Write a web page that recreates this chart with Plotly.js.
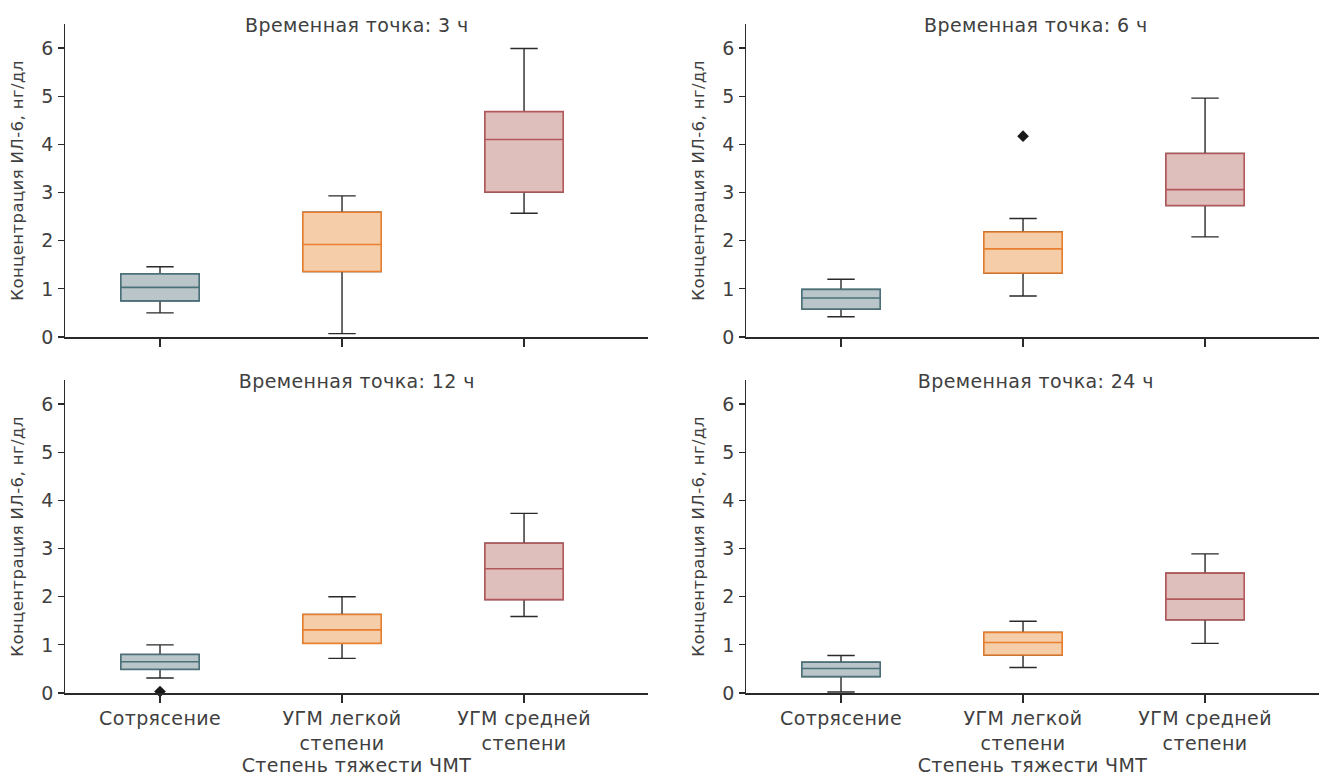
<!DOCTYPE html>
<html>
<head>
<meta charset="utf-8">
<script src="https://cdn.plot.ly/plotly-3.0.1.min.js"></script>
<style>
html,body{margin:0;padding:0;background:#fff}
#chart{width:1319px;height:778px}
#chart svg text{letter-spacing:0.4px}
</style>
</head>
<body>
<div id="chart"></div>
<script>
// ---- data ----
const categories = ['Сотрясение', 'УГМ легкой<br>степени', 'УГМ средней<br>степени'];
const timepoints = ['3 ч', '6 ч', '12 ч', '24 ч'];
// one row per time point, one value per category
const lowerWhisker = [[0.50, 0.07, 2.57], [0.42, 0.85, 2.08], [0.31, 0.72, 1.59], [0.02, 0.53, 1.03]];
const q1Values     = [[0.75, 1.36, 3.01], [0.58, 1.33, 2.73], [0.49, 1.03, 1.94], [0.34, 0.79, 1.52]];
const medianValues = [[1.03, 1.92, 4.10], [0.81, 1.83, 3.06], [0.65, 1.31, 2.58], [0.51, 1.05, 1.95]];
const q3Values     = [[1.31, 2.59, 4.68], [0.99, 2.18, 3.81], [0.80, 1.63, 3.11], [0.64, 1.26, 2.49]];
const upperWhisker = [[1.46, 2.93, 5.99], [1.20, 2.46, 4.96], [1.00, 2.00, 3.73], [0.78, 1.49, 2.89]];
const outlierCategory = [[], [1], [0], []];
const outlierValue    = [[], [4.17], [0.03], []];

const fillColors = ['#b9c5c9', '#f6cda9', '#dfbfbc'];
const lineColors = ['#4b727a', '#e8802f', '#b4595b'];
const textColor = '#404040';
const fontFamily = '"DejaVu Sans", "Liberation Sans", Arial, sans-serif';

// panel geometry (paper fractions)
const W = 1319, H = 778;
const xDomains = [[65 / W, 648 / W], [746 / W, 1], [65 / W, 648 / W], [746 / W, 1]];
const yDomains = [[1 - 337 / H, 1 - 24 / H], [1 - 337 / H, 1 - 24 / H], [1 - 693 / H, 1 - 380 / H], [1 - 693 / H, 1 - 380 / H]];
const xRanges = [[-0.522, 2.681], [-0.522, 2.626], [-0.522, 2.681], [-0.522, 2.626]];

const traces = [];
const layout = {
  width: W, height: H,
  margin: {l: 0, r: 0, t: 0, b: 0},
  paper_bgcolor: '#ffffff', plot_bgcolor: 'rgba(0,0,0,0)',
  showlegend: false,
  boxmode: 'overlay',
  font: {family: fontFamily, color: textColor, size: 17},
  annotations: []
};

for (let p = 0; p < 4; p++) {
  const sfx = p === 0 ? '' : String(p + 1);
  const xa = 'x' + sfx, ya = 'y' + sfx;
  // dark whiskers
  traces.push({
    type: 'box', xaxis: xa, yaxis: ya,
    x: categories,
    q1: q1Values[p], median: medianValues[p], q3: q3Values[p],
    lowerfence: lowerWhisker[p], upperfence: upperWhisker[p],
    width: 0.43, whiskerwidth: 0.35,
    fillcolor: 'rgba(0,0,0,0)',
    line: {color: '#2a2a2a', width: 1.4},
    hoverinfo: 'skip'
  });
  // coloured boxes
  for (let c = 0; c < categories.length; c++) {
    traces.push({
      type: 'box', xaxis: xa, yaxis: ya,
      x: [categories[c]],
      q1: [q1Values[p][c]], median: [medianValues[p][c]], q3: [q3Values[p][c]],
      lowerfence: [q1Values[p][c]], upperfence: [q3Values[p][c]],
      width: 0.43, whiskerwidth: 0,
      fillcolor: fillColors[c],
      line: {color: lineColors[c], width: 1.6},
      hoverinfo: 'skip'
    });
  }
  // outliers
  if (outlierValue[p].length) {
    traces.push({
      type: 'scatter', mode: 'markers', xaxis: xa, yaxis: ya,
      x: outlierCategory[p].map(i => categories[i]),
      y: outlierValue[p],
      marker: {symbol: 'diamond', size: 9, color: '#1a1a1a'},
      cliponaxis: false, hoverinfo: 'skip'
    });
  }
  const bottom = p >= 2;
  layout['xaxis' + sfx] = {
    domain: xDomains[p], anchor: ya, type: 'category',
    categoryorder: 'array', categoryarray: categories,
    range: xRanges[p], fixedrange: true,
    showline: true, linecolor: '#2a2a2a', linewidth: 1.5,
    ticks: 'outside', ticklen: 8, tickwidth: 1.4, tickcolor: '#2a2a2a',
    showgrid: false, zeroline: false,
    showticklabels: bottom,
    tickfont: {size: 19, color: textColor, family: fontFamily},
    title: bottom ? {text: 'Степень тяжести ЧМТ', font: {size: 19, color: textColor}, standoff: 2} : {text: ''}
  };
  layout['yaxis' + sfx] = {
    domain: yDomains[p], anchor: xa,
    range: [0, 6.5], fixedrange: true,
    tickvals: [0, 1, 2, 3, 4, 5, 6],
    showline: true, linecolor: '#2a2a2a', linewidth: 1.5,
    ticks: 'outside', ticklen: 6, tickwidth: 1.2, tickcolor: '#2a2a2a',
    showgrid: false, zeroline: false,
    tickfont: {size: 19, color: textColor, family: fontFamily},
    title: {text: 'Концентрация ИЛ-6, нг/дл', font: {size: 16.5, color: textColor}, standoff: 14}
  };
  layout.annotations.push({
    xref: 'paper', yref: 'paper',
    x: (xDomains[p][0] + xDomains[p][1]) / 2 + (p % 2 === 1 ? 0.003 : 0),
    y: bottom ? 1 - 381 / H : 1 - 25 / H,
    xanchor: 'center', yanchor: 'middle', showarrow: false,
    text: 'Временная точка: ' + timepoints[p],
    font: {size: 19, color: textColor, family: fontFamily}
  });
}

Plotly.newPlot('chart', traces, layout, {displayModeBar: false, staticPlot: true});
</script>
</body>
</html>
